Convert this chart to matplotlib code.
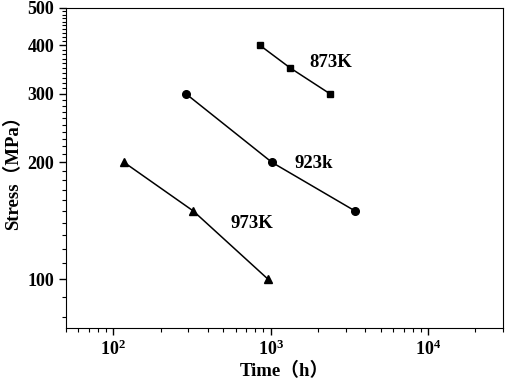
import matplotlib
matplotlib.use("Agg")
import matplotlib.pyplot as plt
from matplotlib.ticker import FixedLocator, MultipleLocator, LogLocator, NullFormatter, FixedFormatter

plt.rcParams['font.family'] = ['Liberation Serif', 'Noto Sans CJK SC']
plt.rcParams['font.weight'] = 'bold'
plt.rcParams['mathtext.fontset'] = 'custom'
plt.rcParams['mathtext.rm'] = 'Liberation Serif:bold'
plt.rcParams['mathtext.it'] = 'Liberation Serif:bold'
plt.rcParams['mathtext.bf'] = 'Liberation Serif:bold'

# data
t_873 = [855, 1330, 2390]
s_873 = [400, 350, 300]
t_923 = [290, 1020, 3440]
s_923 = [300, 200, 150]
t_973 = [117, 322, 966]
s_973 = [200, 150, 100]

labels = ["873K", "923k", "973K"]
label_x = [2420, 1890, 760]
label_y = [361, 199, 139]

y_major = [100, 200, 300, 400, 500]

fig = plt.figure(figsize=(5.05, 3.83), dpi=100)
ax = fig.add_axes([0.1307, 0.1436, 0.8653, 0.8364])

ax.plot(t_873, s_873, 'k-s', lw=1.1, ms=5)
ax.plot(t_923, s_923, 'k-o', lw=1.1, ms=5.5)
ax.plot(t_973, s_973, 'k-^', lw=1.1, ms=6)

for lab, x, y in zip(labels, label_x, label_y):
    ax.text(x, y, lab, fontsize=13.5, fontweight='bold', ha='center', va='center')

ax.set_xscale('log')
ax.set_yscale('log')
ax.set_xlim(50, 30000)
ax.set_ylim(75, 500)

ax.yaxis.set_major_locator(FixedLocator(y_major))
ax.yaxis.set_major_formatter(FixedFormatter([str(v) for v in y_major]))
ax.yaxis.set_minor_locator(MultipleLocator(10))
ax.yaxis.set_minor_formatter(NullFormatter())

ax.xaxis.set_major_locator(LogLocator(base=10))
ax.xaxis.set_minor_locator(LogLocator(base=10, subs=range(2, 10)))
ax.xaxis.set_minor_formatter(NullFormatter())

ax.tick_params(which='both', direction='out', top=False, right=False, labelsize=13)
ax.tick_params(which='major', length=5, width=1)
ax.tick_params(which='minor', length=3, width=0.8)
for lbl in ax.get_yticklabels() + ax.get_xticklabels():
    lbl.set_fontweight('bold')

ax.set_xlabel('Time（h）', fontsize=13.5, fontweight='bold', labelpad=2)
ax.set_ylabel('Stress（MPa）', fontsize=13.5, fontweight='bold', labelpad=4)

fig.savefig('out.png', dpi=100)
